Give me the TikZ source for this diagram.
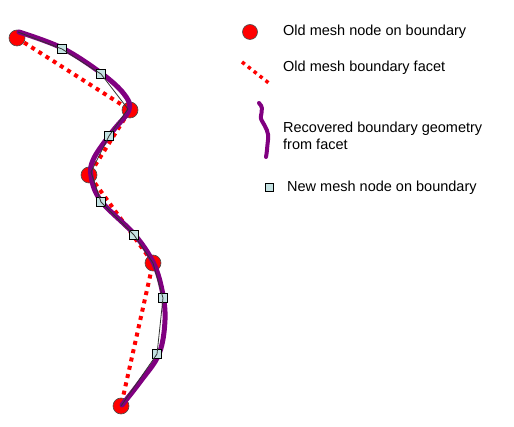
\documentclass[tikz,border=0pt]{standalone}
\usepackage{fontspec}
\setmainfont{Liberation Sans}
\definecolor{rcol}{RGB}{255,0,0}
\definecolor{pcol}{RGB}{128,0,128}
\definecolor{scol}{RGB}{196,226,226}
\begin{document}
\begin{tikzpicture}[x=1pt,y=-1pt,
  oldnode/.style={circle,fill=rcol,draw=black!70,line width=0.6pt,minimum size=16pt,inner sep=0pt},
  newnode/.style={rectangle,fill=scol,draw=black,line width=0.8pt,minimum size=8.5pt,inner sep=0pt},
  facet/.style={rcol,line width=4pt,dash pattern=on 4pt off 4.5pt},
  geom/.style={pcol,line width=5pt,line cap=round,line join=round},
  thinline/.style={black!80,line width=0.8pt},
  lbl/.style={anchor=west,inner sep=0pt,font=\fontsize{14.5pt}{17pt}\selectfont}]
\useasboundingbox (0,0) rectangle (514,427);
% old mesh nodes
\node[oldnode] (o1) at (17,38) {};
\node[oldnode] (o2) at (130,110) {};
\node[oldnode] (o3) at (89,175) {};
\node[oldnode] (o4) at (153,263) {};
\node[oldnode] (o5) at (121,406) {};
% facets
\draw[facet] (o1.center) -- (o2.center) -- (o3.center) -- (o4.center) -- (o5.center);
% recovered geometry
\draw[geom] plot[smooth,tension=0.6] coordinates {(19,32) (62,48) (101,73) (124,94) (129,110) (112,132) (94,158) (91,176) (101,201) (134,234) (153,262) (162,290) (165,320) (159,354) (140,382) (122,405)};
% new mesh nodes
\node[newnode] (n1) at (62,49) {};
\node[newnode] (n2) at (101,74) {};
\node[newnode] (n3) at (109,136) {};
\node[newnode] (n4) at (101,202) {};
\node[newnode] (n5) at (134,235) {};
\node[newnode] (n6) at (163,298) {};
\node[newnode] (n7) at (157,354) {};
\coordinate (t0) at (18,32);
\coordinate (t1) at (128,109);
\coordinate (t2) at (91,172);
\draw[thinline] (t0) -- (n1.center) -- (n2.center) -- (t1) -- (n3.center) -- (t2) -- (n4.center) -- (n5.center) -- (o4.center) -- (n6.center) -- (n7.center) -- (o5.center);
% legend
\node[oldnode,minimum size=15pt] (lo) at (250,32) {};
\node[lbl] (lt1) at (283,32) {Old mesh node on boundary};
\coordinate (lf1) at (242,62);
\coordinate (lf2) at (270,84);
\draw[facet,line width=3.5pt,dash pattern=on 3.5pt off 4pt] (lf1) -- (lf2);
\node[lbl] (lt2) at (283,68) {Old mesh boundary facet};
\draw[geom,line width=4pt] (259,103) .. controls (266,110) and (258,115) .. (262,121) .. controls (266,128) and (269,132) .. (268,140) .. controls (267,148) and (267,152) .. (266,157);
\node[lbl,align=left] (lt3) at (283,136) {Recovered boundary geometry\\from facet};
\node[newnode,minimum size=8pt] (ln) at (269,187) {};
\node[lbl] (lt4) at (287,188) {New mesh node on boundary};
\end{tikzpicture}
\end{document}
